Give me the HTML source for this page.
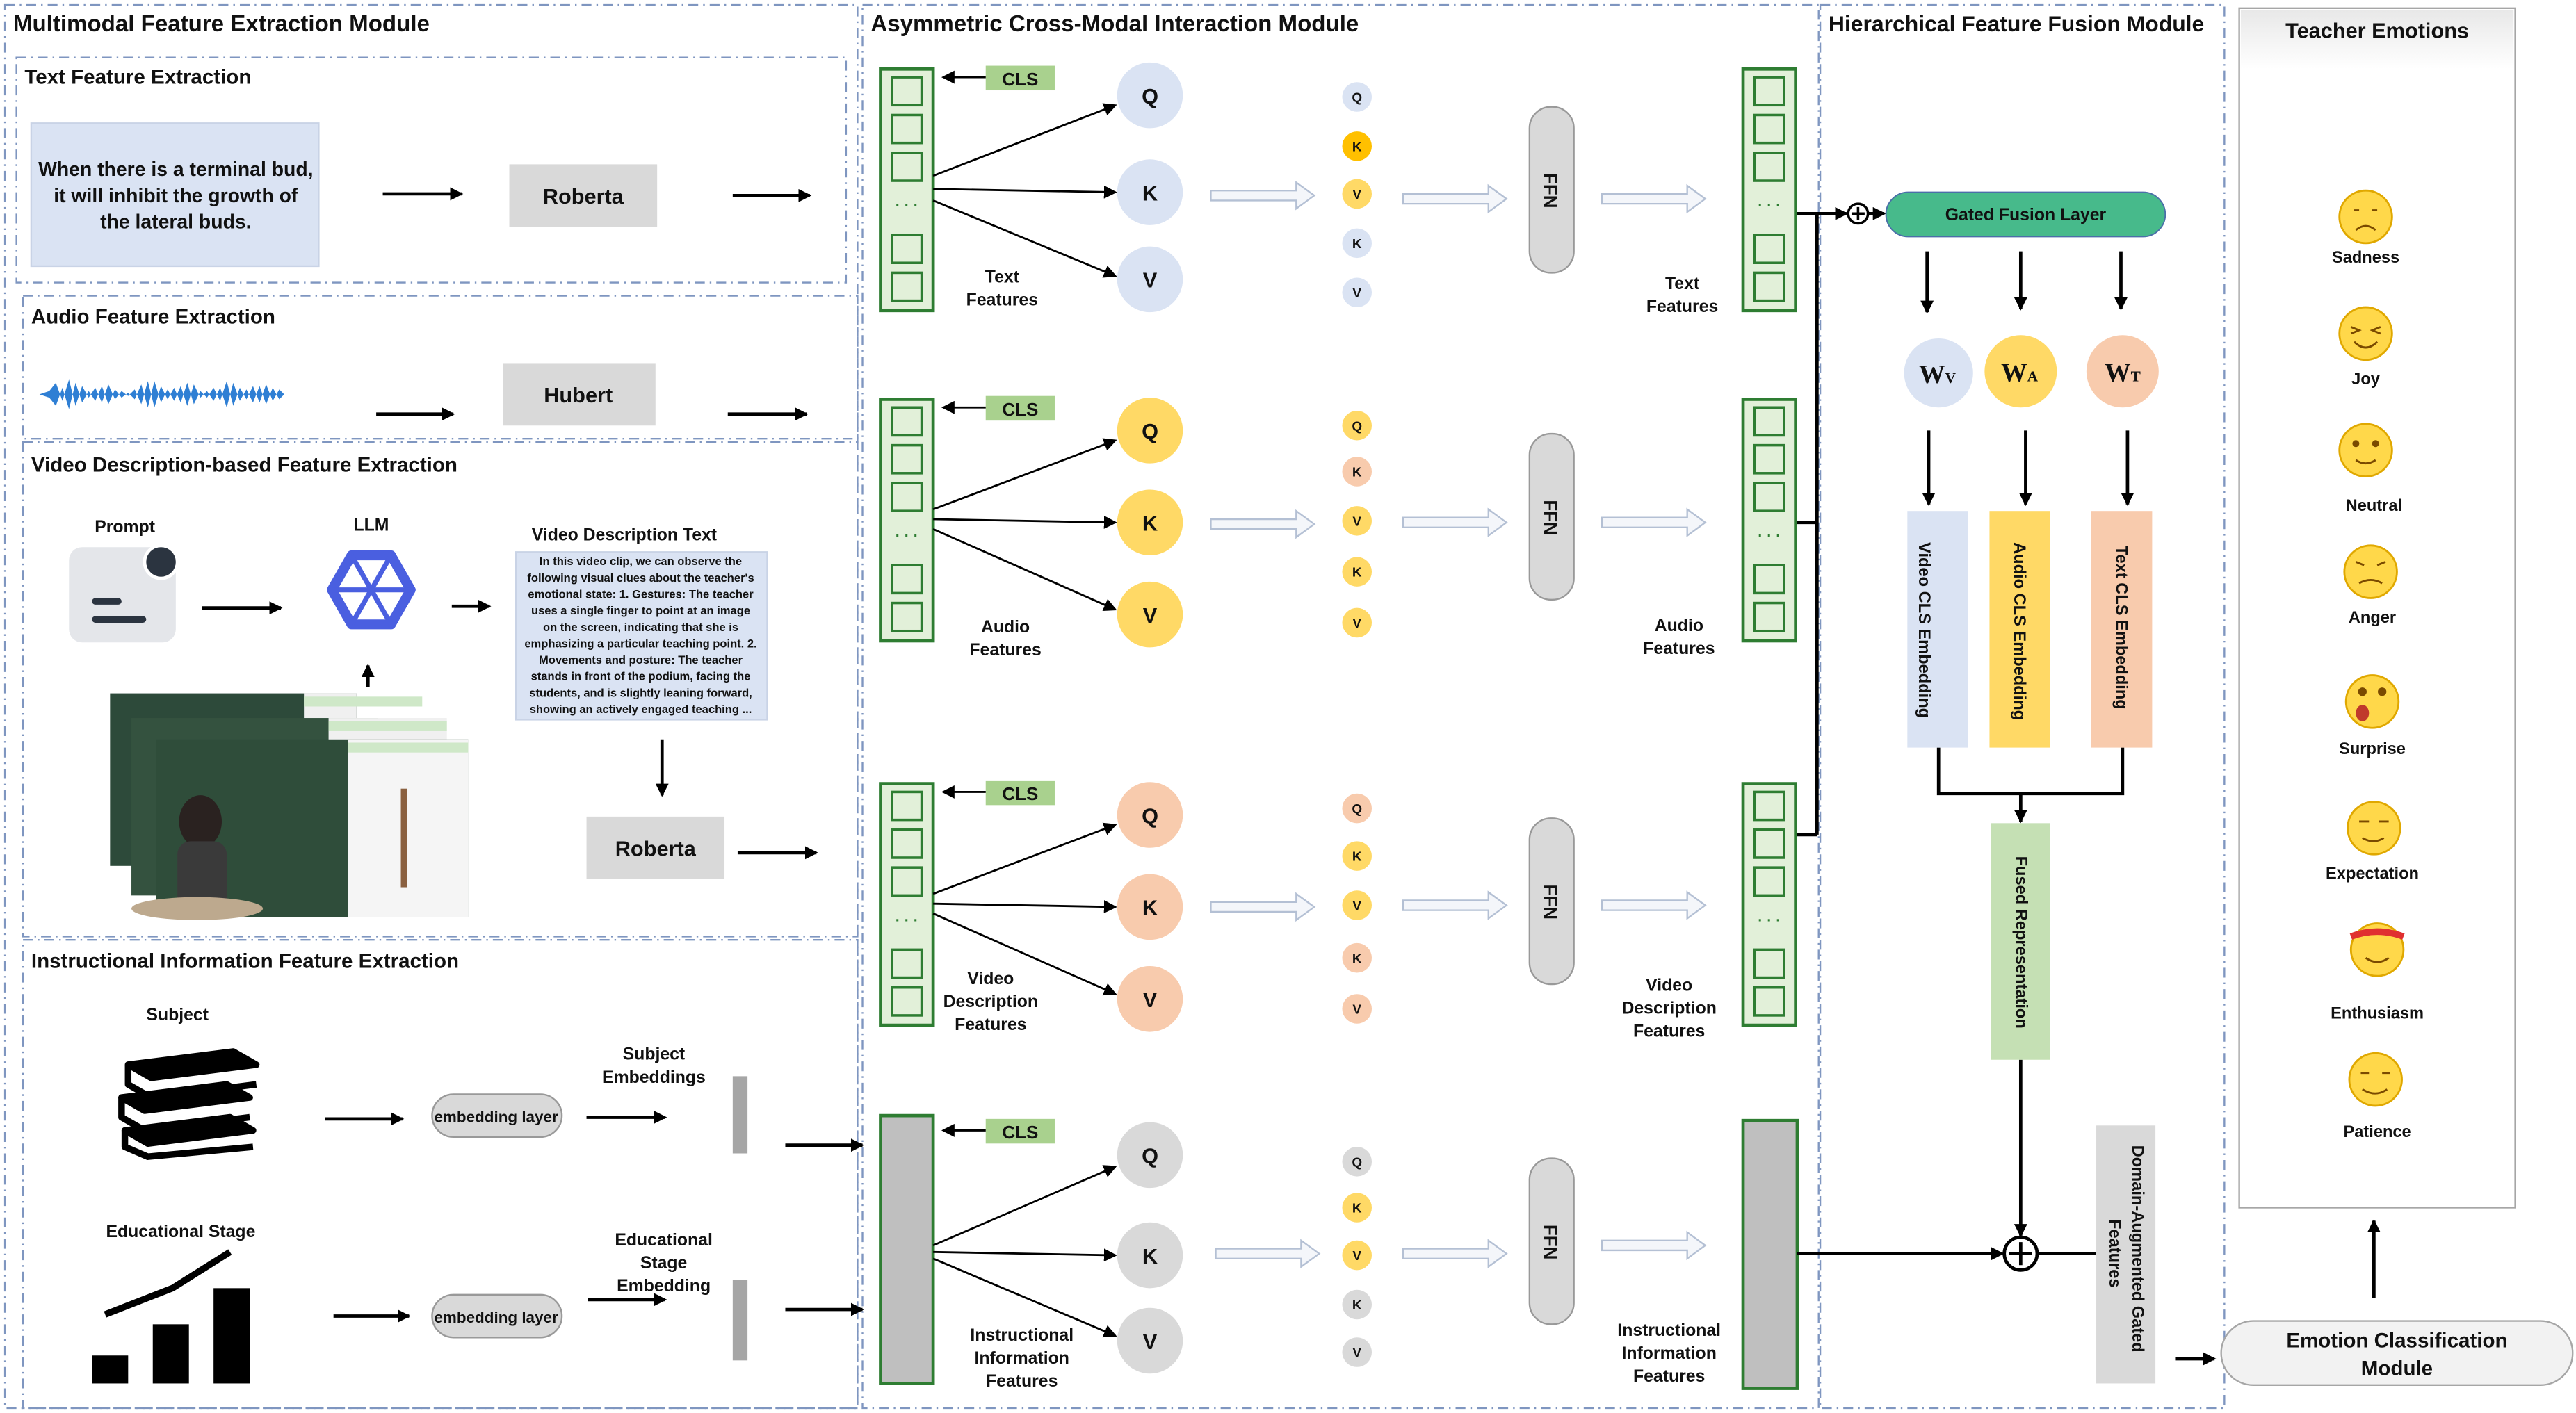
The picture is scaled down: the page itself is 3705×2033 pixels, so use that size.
<!DOCTYPE html>
<html><head><meta charset="utf-8"><style>
html,body{margin:0;padding:0;background:#fff}
svg{display:block}
text{font-family:"Liberation Sans","Noto Sans CJK SC",sans-serif;font-weight:bold;fill:#111}
</style></head><body>
<svg width="3705" height="2033" viewBox="0 0 1568 860" preserveAspectRatio="none" xmlns="http://www.w3.org/2000/svg">
<defs>
<marker id="ah" markerWidth="8" markerHeight="8" refX="7" refY="4" orient="auto" markerUnits="userSpaceOnUse"><path d="M0,0 L8,4 L0,8 z" fill="#000"/></marker>
<linearGradient id="hd" x1="0" y1="0" x2="0" y2="1"><stop offset="0" stop-color="#e8e8e8"/><stop offset="1" stop-color="#fff"/></linearGradient>
<g id="hol"><path d="M0,-3 L52,-3 L52,-8 L63,0 L52,8 L52,3 L0,3 z" fill="#f4f6fa" stroke="#b4c0d4" stroke-width="1"/></g>
<g id="col">
<rect x="0" y="0" width="32" height="147" fill="#e2f0d9" stroke="#2e7d32" stroke-width="2"/>
<rect x="7" y="5" width="18" height="17" fill="#e2f0d9" stroke="#2e7d32" stroke-width="1.5"/>
<rect x="7" y="28" width="18" height="17" fill="#e2f0d9" stroke="#2e7d32" stroke-width="1.5"/>
<rect x="7" y="51" width="18" height="17" fill="#e2f0d9" stroke="#2e7d32" stroke-width="1.5"/>
<text x="16" y="86" font-size="9" text-anchor="middle" fill="#2e7d32" style="fill:#2e7d32">· · ·</text>
<rect x="7" y="101" width="18" height="17" fill="#e2f0d9" stroke="#2e7d32" stroke-width="1.5"/>
<rect x="7" y="124" width="18" height="17" fill="#e2f0d9" stroke="#2e7d32" stroke-width="1.5"/>
</g>
</defs>

<!-- module borders -->
<g fill="none" stroke="#7f96c0" stroke-width="1" stroke-dasharray="6,3,1,3">
<rect x="3" y="3" width="519" height="854"/>
<rect x="525" y="3" width="582" height="854"/>
<rect x="1108" y="3" width="246" height="854"/>
<rect x="10" y="35" width="505" height="137"/>
<rect x="14" y="180" width="508" height="87"/>
<rect x="14" y="269" width="508" height="301"/>
<rect x="14" y="572" width="508" height="285"/>
</g>
<text x="8" y="19" font-size="14">Multimodal Feature Extraction Module</text>
<text x="530" y="19" font-size="14">Asymmetric Cross-Modal Interaction Module</text>
<text x="1113" y="19" font-size="13.5">Hierarchical Feature Fusion Module</text>

<!-- Text feature extraction -->
<text x="15" y="51" font-size="12.5">Text Feature Extraction</text>
<rect x="19" y="75" width="175" height="87" fill="#dae3f3" stroke="#c9d3e6"/>
<text font-size="12" text-anchor="middle"><tspan x="107" y="107">When there is a terminal bud,</tspan><tspan x="107" y="123">it will inhibit the growth of</tspan><tspan x="107" y="139">the lateral buds.</tspan></text>
<g stroke="#000" stroke-width="2" marker-end="url(#ah)" fill="none">
<line x1="233" y1="118" x2="281" y2="118"/><line x1="446" y1="119" x2="493" y2="119"/>
<line x1="229" y1="252" x2="276" y2="252"/><line x1="443" y1="252" x2="491" y2="252"/>
<line x1="123" y1="370" x2="171" y2="370"/><line x1="275" y1="369" x2="298" y2="369"/>
<line x1="224" y1="418" x2="224" y2="405"/><line x1="403" y1="450" x2="403" y2="484"/>
<line x1="449" y1="519" x2="497" y2="519"/>
<line x1="198" y1="681" x2="245" y2="681"/><line x1="357" y1="680" x2="405" y2="680"/>
<line x1="478" y1="697" x2="525" y2="697"/>
<line x1="203" y1="801" x2="249" y2="801"/><line x1="358" y1="791" x2="405" y2="791"/>
<line x1="478" y1="797" x2="525" y2="797"/>
</g>
<rect x="310" y="100" width="90" height="38" fill="#d9d9d9"/><text x="355" y="124" font-size="13" text-anchor="middle">Roberta</text>

<!-- Audio -->
<text x="19" y="197" font-size="12.5">Audio Feature Extraction</text>
<path d="M24,240 L30,238 L34,233 L38,244 L42,231 L46,247 L50,235 L54,242 L58,236 L62,245 L66,234 L70,243 L74,238 L78,241 L82,237 L86,246 L90,232 L94,248 L98,235 L102,243 L106,236 L110,245 L114,233 L118,246 L122,238 L126,242 L130,236 L134,244 L138,232 L142,247 L146,236 L150,243 L154,235 L158,245 L162,234 L166,244 L170,237 L173,240 L170,243 L166,236 L162,246 L158,235 L154,245 L150,237 L146,244 L142,233 L138,248 L134,236 L130,244 L126,238 L122,242 L118,234 L114,247 L110,235 L106,244 L102,237 L98,245 L94,232 L90,248 L86,234 L82,243 L78,239 L74,242 L70,237 L66,246 L62,235 L58,244 L54,238 L50,245 L46,233 L42,249 L38,236 L34,247 L30,242 Z" fill="#2f7fd4"/>
<rect x="306" y="221" width="93" height="38" fill="#d9d9d9"/><text x="352" y="245" font-size="13" text-anchor="middle">Hubert</text>

<!-- Video description -->
<text x="19" y="287" font-size="12.5">Video Description-based Feature Extraction</text>
<text x="76" y="324" font-size="10.5" text-anchor="middle">Prompt</text>
<rect x="42" y="333" width="65" height="58" rx="8" fill="#e4e6ea"/>
<circle cx="98" cy="342" r="10" fill="#2b3440" stroke="#fff" stroke-width="2"/>
<rect x="56" y="364" width="18" height="4" rx="2" fill="#2b3440"/><rect x="56" y="375" width="33" height="4" rx="2" fill="#2b3440"/>
<text x="226" y="323" font-size="10.5" text-anchor="middle">LLM</text>
<g fill="none" stroke="#4a5fe0" stroke-width="6" stroke-linejoin="round">
<path d="M214,338 L238,338 L250,359 L238,380 L214,380 L202,359 Z"/>
<path d="M214,338 L238,380 M238,338 L214,380 M202,359 L250,359" stroke-width="3"/>
</g>
<text x="380" y="329" font-size="10.5" text-anchor="middle">Video Description Text</text>
<rect x="314" y="336" width="153" height="102" fill="#dae3f3" stroke="#c9d3e6"/>
<text font-size="7" text-anchor="middle"><tspan x="390" y="344">In this video clip, we can observe the</tspan><tspan x="390" y="354">following visual clues about the teacher's</tspan><tspan x="390" y="364">emotional state: 1. Gestures: The teacher</tspan><tspan x="390" y="374">uses a single finger to point at an image</tspan><tspan x="390" y="384">on the screen, indicating that she is</tspan><tspan x="390" y="394">emphasizing a particular teaching point. 2.</tspan><tspan x="390" y="404">Movements and posture: The teacher</tspan><tspan x="390" y="414">stands in front of the podium, facing the</tspan><tspan x="390" y="424">students, and is slightly leaning forward,</tspan><tspan x="390" y="434">showing an actively engaged teaching ...</tspan></text>
<!-- video frames -->
<rect x="67" y="422" width="150" height="105" fill="#2d4a3a"/><rect x="185" y="422" width="32" height="105" fill="#f0f0f0"/>
<rect x="80" y="437" width="150" height="108" fill="#34523f"/><rect x="200" y="437" width="72" height="108" fill="#f0f0f0"/>
<rect x="95" y="450" width="190" height="108" fill="#2f4d3a"/><rect x="212" y="450" width="73" height="108" fill="#f5f5f5"/>
<rect x="185" y="424" width="72" height="6" fill="#cfe8c8"/><rect x="200" y="439" width="72" height="6" fill="#cfe8c8"/><rect x="212" y="452" width="73" height="6" fill="#cfe8c8"/>
<rect x="244" y="480" width="4" height="60" fill="#8a6040"/>
<ellipse cx="122" cy="500" rx="13" ry="16" fill="#2a2220"/><rect x="108" y="512" width="30" height="46" rx="8" fill="#3a3a3a"/>
<ellipse cx="120" cy="553" rx="40" ry="7" fill="#bda98e"/>
<rect x="357" y="497" width="84" height="38" fill="#d9d9d9"/><text x="399" y="521" font-size="13" text-anchor="middle">Roberta</text>

<!-- Instructional -->
<text x="19" y="589" font-size="12.5">Instructional Information Feature Extraction</text>
<text x="108" y="621" font-size="10.5" text-anchor="middle">Subject</text>
<g fill="none" stroke="#000" stroke-width="4" stroke-linejoin="round">
<path d="M78,648 L142,640 L156,648 L92,656 Z" fill="#000"/><path d="M78,648 L78,660 L92,668 L156,660"/>
<path d="M74,668 L138,660 L152,668 L88,676 Z" fill="#000"/><path d="M74,668 L74,680 L88,688 L152,680"/>
<path d="M76,688 L140,680 L154,688 L90,696 Z" fill="#000"/><path d="M76,688 L76,698 L90,704 L154,698"/>
</g>
<rect x="263" y="666" width="79" height="26" rx="13" fill="#d9d9d9" stroke="#999"/><text x="302" y="683" font-size="9.5" text-anchor="middle">embedding layer</text>
<text font-size="10.5" text-anchor="middle"><tspan x="398" y="645">Subject</tspan><tspan x="398" y="659">Embeddings</tspan></text>
<rect x="446" y="655" width="9" height="47" fill="#a6a6a6"/>
<text x="110" y="753" font-size="10.5" text-anchor="middle">Educational Stage</text>
<rect x="56" y="825" width="22" height="17" fill="#000"/><rect x="93" y="806" width="22" height="36" fill="#000"/><rect x="130" y="784" width="22" height="58" fill="#000"/>
<path d="M64,800 L105,784 L140,762" fill="none" stroke="#000" stroke-width="4"/>
<rect x="263" y="788" width="79" height="26" rx="13" fill="#d9d9d9" stroke="#999"/><text x="302" y="805" font-size="9.5" text-anchor="middle">embedding layer</text>
<text font-size="10.5" text-anchor="middle"><tspan x="404" y="758">Educational</tspan><tspan x="404" y="772">Stage</tspan><tspan x="404" y="786">Embedding</tspan></text>
<rect x="446" y="779" width="9" height="49" fill="#a6a6a6"/>

<!-- middle rows -->
<use href="#col" x="536" y="42"/><use href="#col" x="1061" y="42"/>
<use href="#col" x="536" y="243"/><use href="#col" x="1061" y="243"/>
<use href="#col" x="536" y="477"/><use href="#col" x="1061" y="477"/>
<rect x="536" y="679" width="32" height="163" fill="#bfbfbf" stroke="#2e7d32" stroke-width="2"/>
<rect x="1061" y="682" width="33" height="163" fill="#bfbfbf" stroke="#2e7d32" stroke-width="2"/>
<g>
<rect x="600" y="40" width="42" height="15" fill="#a9d18e"/><text x="621" y="52" font-size="11" text-anchor="middle">CLS</text>
<rect x="600" y="241" width="42" height="15" fill="#a9d18e"/><text x="621" y="253" font-size="11" text-anchor="middle">CLS</text>
<rect x="600" y="475" width="42" height="15" fill="#a9d18e"/><text x="621" y="487" font-size="11" text-anchor="middle">CLS</text>
<rect x="600" y="681" width="42" height="15" fill="#a9d18e"/><text x="621" y="693" font-size="11" text-anchor="middle">CLS</text>
</g>
<g stroke="#000" stroke-width="1.2" marker-end="url(#ah)" fill="none">
<line x1="600" y1="47" x2="574" y2="47"/><line x1="600" y1="248" x2="574" y2="248"/><line x1="600" y1="482" x2="574" y2="482"/><line x1="600" y1="688" x2="574" y2="688"/>
<line x1="568" y1="107" x2="679" y2="64"/><line x1="568" y1="115" x2="679" y2="117"/><line x1="568" y1="122" x2="679" y2="168"/>
<line x1="568" y1="310" x2="679" y2="268"/><line x1="568" y1="316" x2="679" y2="318"/><line x1="568" y1="322" x2="679" y2="371"/>
<line x1="568" y1="544" x2="679" y2="502"/><line x1="568" y1="550" x2="679" y2="552"/><line x1="568" y1="556" x2="679" y2="605"/>
<line x1="568" y1="758" x2="679" y2="710"/><line x1="568" y1="762" x2="679" y2="764"/><line x1="568" y1="766" x2="679" y2="813"/>
</g>
<g font-size="13" text-anchor="middle">
<circle cx="700" cy="58" r="20" fill="#dae3f3"/><text x="700" y="63">Q</text>
<circle cx="700" cy="117" r="20" fill="#dae3f3"/><text x="700" y="122">K</text>
<circle cx="700" cy="170" r="20" fill="#dae3f3"/><text x="700" y="175">V</text>
<circle cx="700" cy="262" r="20" fill="#ffd966"/><text x="700" y="267">Q</text>
<circle cx="700" cy="318" r="20" fill="#ffd966"/><text x="700" y="323">K</text>
<circle cx="700" cy="374" r="20" fill="#ffd966"/><text x="700" y="379">V</text>
<circle cx="700" cy="496" r="20" fill="#f8cbad"/><text x="700" y="501">Q</text>
<circle cx="700" cy="552" r="20" fill="#f8cbad"/><text x="700" y="557">K</text>
<circle cx="700" cy="608" r="20" fill="#f8cbad"/><text x="700" y="613">V</text>
<circle cx="700" cy="703" r="20" fill="#d9d9d9"/><text x="700" y="708">Q</text>
<circle cx="700" cy="764" r="20" fill="#d9d9d9"/><text x="700" y="769">K</text>
<circle cx="700" cy="816" r="20" fill="#d9d9d9"/><text x="700" y="821">V</text>
</g>
<g font-size="8" text-anchor="middle">
<circle cx="826" cy="59" r="9" fill="#dae3f3"/><text x="826" y="62">Q</text>
<circle cx="826" cy="89" r="9" fill="#ffc000"/><text x="826" y="92">K</text>
<circle cx="826" cy="118" r="9" fill="#ffd966"/><text x="826" y="121">V</text>
<circle cx="826" cy="148" r="9" fill="#dae3f3"/><text x="826" y="151">K</text>
<circle cx="826" cy="178" r="9" fill="#dae3f3"/><text x="826" y="181">V</text>
<circle cx="826" cy="259" r="9" fill="#ffd966"/><text x="826" y="262">Q</text>
<circle cx="826" cy="287" r="9" fill="#f8cbad"/><text x="826" y="290">K</text>
<circle cx="826" cy="317" r="9" fill="#ffd966"/><text x="826" y="320">V</text>
<circle cx="826" cy="348" r="9" fill="#ffd966"/><text x="826" y="351">K</text>
<circle cx="826" cy="379" r="9" fill="#ffd966"/><text x="826" y="382">V</text>
<circle cx="826" cy="492" r="9" fill="#f8cbad"/><text x="826" y="495">Q</text>
<circle cx="826" cy="521" r="9" fill="#ffd966"/><text x="826" y="524">K</text>
<circle cx="826" cy="551" r="9" fill="#ffd966"/><text x="826" y="554">V</text>
<circle cx="826" cy="583" r="9" fill="#f8cbad"/><text x="826" y="586">K</text>
<circle cx="826" cy="614" r="9" fill="#f8cbad"/><text x="826" y="617">V</text>
<circle cx="826" cy="707" r="9" fill="#d9d9d9"/><text x="826" y="710">Q</text>
<circle cx="826" cy="735" r="9" fill="#ffd966"/><text x="826" y="738">K</text>
<circle cx="826" cy="764" r="9" fill="#ffd966"/><text x="826" y="767">V</text>
<circle cx="826" cy="794" r="9" fill="#d9d9d9"/><text x="826" y="797">K</text>
<circle cx="826" cy="823" r="9" fill="#d9d9d9"/><text x="826" y="826">V</text>
</g>
<use href="#hol" x="737" y="119"/><use href="#hol" x="854" y="121"/><use href="#hol" x="975" y="121"/>
<use href="#hol" x="737" y="319"/><use href="#hol" x="854" y="318"/><use href="#hol" x="975" y="318"/>
<use href="#hol" x="737" y="552"/><use href="#hol" x="854" y="551"/><use href="#hol" x="975" y="551"/>
<use href="#hol" x="740" y="763"/><use href="#hol" x="854" y="763"/><use href="#hol" x="975" y="758"/>
<g fill="#d9d9d9" stroke="#999">
<rect x="931" y="65" width="27" height="101" rx="13"/><rect x="931" y="264" width="27" height="101" rx="13"/>
<rect x="931" y="498" width="27" height="101" rx="13"/><rect x="931" y="705" width="27" height="101" rx="13"/>
</g>
<g font-size="11" text-anchor="middle">
<text transform="translate(940,116) rotate(90)">FFN</text><text transform="translate(940,315) rotate(90)">FFN</text>
<text transform="translate(940,549) rotate(90)">FFN</text><text transform="translate(940,756) rotate(90)">FFN</text>
</g>
<g font-size="10.5" text-anchor="middle">
<text><tspan x="610" y="172">Text</tspan><tspan x="610" y="186">Features</tspan></text>
<text><tspan x="1024" y="176">Text</tspan><tspan x="1024" y="190">Features</tspan></text>
<text><tspan x="612" y="385">Audio</tspan><tspan x="612" y="399">Features</tspan></text>
<text><tspan x="1022" y="384">Audio</tspan><tspan x="1022" y="398">Features</tspan></text>
<text><tspan x="603" y="599">Video</tspan><tspan x="603" y="613">Description</tspan><tspan x="603" y="627">Features</tspan></text>
<text><tspan x="1016" y="603">Video</tspan><tspan x="1016" y="617">Description</tspan><tspan x="1016" y="631">Features</tspan></text>
<text><tspan x="622" y="816">Instructional</tspan><tspan x="622" y="830">Information</tspan><tspan x="622" y="844">Features</tspan></text>
<text><tspan x="1016" y="813">Instructional</tspan><tspan x="1016" y="827">Information</tspan><tspan x="1016" y="841">Features</tspan></text>
</g>

<!-- fusion -->
<g stroke="#000" stroke-width="2" fill="none">
<line x1="1094" y1="130" x2="1106" y2="130"/><line x1="1094" y1="318" x2="1106" y2="318"/><line x1="1094" y1="508" x2="1106" y2="508"/>
<line x1="1106" y1="130" x2="1106" y2="508"/>
<line x1="1106" y1="130" x2="1124" y2="130" marker-end="url(#ah)"/>
<line x1="1137" y1="130" x2="1147" y2="130" marker-end="url(#ah)"/>
<line x1="1173" y1="153" x2="1173" y2="190" marker-end="url(#ah)"/><line x1="1230" y1="153" x2="1230" y2="188" marker-end="url(#ah)"/><line x1="1291" y1="153" x2="1291" y2="188" marker-end="url(#ah)"/>
<line x1="1174" y1="262" x2="1174" y2="307" marker-end="url(#ah)"/><line x1="1233" y1="262" x2="1233" y2="307" marker-end="url(#ah)"/><line x1="1295" y1="262" x2="1295" y2="307" marker-end="url(#ah)"/>
<polyline points="1180,455 1180,483 1292,483 1292,455"/>
<line x1="1230" y1="483" x2="1230" y2="500" marker-end="url(#ah)"/>
<line x1="1230" y1="645" x2="1230" y2="752" marker-end="url(#ah)"/>
<line x1="1094" y1="763" x2="1219" y2="763" marker-end="url(#ah)"/>
<line x1="1240" y1="763" x2="1276" y2="763"/>
<line x1="1324" y1="827" x2="1348" y2="827" marker-end="url(#ah)"/>
<line x1="1445" y1="790" x2="1445" y2="743" marker-end="url(#ah)"/>
</g>
<circle cx="1131" cy="130" r="6" fill="#fff" stroke="#000" stroke-width="1.5"/><path d="M1127,130 h8 M1131,126 v8" stroke="#000" stroke-width="1.5"/>
<circle cx="1230" cy="763" r="10" fill="#fff" stroke="#000" stroke-width="2"/><path d="M1223,763 h14 M1230,756 v14" stroke="#000" stroke-width="2"/>
<rect x="1148" y="117" width="170" height="27" rx="13.5" fill="#47ba8b" stroke="#4a6fa8" stroke-width="0.8"/>
<text x="1233" y="134" font-size="10.5" text-anchor="middle">Gated Fusion Layer</text>
<circle cx="1180" cy="227" r="21" fill="#dae3f3"/><circle cx="1230" cy="226" r="22" fill="#ffd966"/><circle cx="1292" cy="226" r="22" fill="#f8cbad"/>
<g style="font-family:'Liberation Serif',serif"><text x="1168" y="233" font-size="16" style="font-family:'Liberation Serif',serif">W<tspan font-size="9">V</tspan></text>
<text x="1218" y="232" font-size="16" style="font-family:'Liberation Serif',serif">W<tspan font-size="9">A</tspan></text>
<text x="1281" y="232" font-size="16" style="font-family:'Liberation Serif',serif">W<tspan font-size="9">T</tspan></text></g>
<rect x="1161" y="311" width="37" height="144" fill="#dae3f3"/><rect x="1211" y="311" width="37" height="144" fill="#ffd966"/><rect x="1273" y="311" width="37" height="144" fill="#f8cbad"/>
<rect x="1212" y="501" width="36" height="144" fill="#c5e0b4"/><rect x="1276" y="685" width="36" height="157" fill="#d9d9d9"/>
<g font-size="10">
<text transform="translate(1168,330) rotate(90)">Video CLS Embedding</text>
<text transform="translate(1226,330) rotate(90)">Audio CLS Embedding</text>
<text transform="translate(1288,332) rotate(90)">Text CLS Embedding</text>
<text transform="translate(1227,521) rotate(90)">Fused Representation</text>
<text transform="translate(1298,697) rotate(90)">Domain-Augmented Gated</text>
<text transform="translate(1284,742) rotate(90)">Features</text>
</g>

<!-- emotions -->
<rect x="1363" y="5" width="168" height="730" fill="#fff" stroke="#a6a6a6"/>
<rect x="1364" y="6" width="166" height="36" fill="url(#hd)"/>
<text x="1447" y="23" font-size="13" text-anchor="middle">Teacher Emotions</text>
<g stroke="#7a4a00" stroke-width="1.2" fill="none">
<circle cx="1440" cy="132" r="16" fill="#ffd84a" stroke="#e0a800"/><path d="M1433,128 h3 M1444,128 h3 M1434,140 q6,-5 12,0"/>
<circle cx="1440" cy="203" r="16" fill="#ffd84a" stroke="#e0a800"/><path d="M1431,199 l5,2 l-5,2 M1449,199 l-5,2 l5,2 M1433,208 q7,7 14,0"/>
<circle cx="1440" cy="274" r="16" fill="#ffd84a" stroke="#e0a800"/><circle cx="1434" cy="270" r="1.5" fill="#7a4a00"/><circle cx="1446" cy="270" r="1.5" fill="#7a4a00"/><path d="M1434,280 q6,4 12,0"/>
<circle cx="1443" cy="348" r="16" fill="#ffd84a" stroke="#e0a800"/><path d="M1434,342 l5,2 M1452,342 l-5,2 M1436,355 q7,-4 14,0"/>
<circle cx="1444" cy="427" r="16" fill="#ffd84a" stroke="#e0a800"/><circle cx="1438" cy="421" r="2" fill="#7a4a00"/><circle cx="1450" cy="421" r="2" fill="#7a4a00"/><ellipse cx="1438" cy="434" rx="4" ry="5" fill="#c0392b" stroke="none"/>
<circle cx="1445" cy="504" r="16" fill="#ffd84a" stroke="#e0a800"/><path d="M1436,500 h6 M1448,500 h6 M1438,510 q7,4 13,0"/>
<circle cx="1447" cy="578" r="16" fill="#ffd84a" stroke="#e0a800"/><path d="M1431,570 q16,-6 32,0" stroke="#e03030" stroke-width="4"/><path d="M1440,583 q7,5 14,0"/>
<circle cx="1446" cy="657" r="16" fill="#ffd84a" stroke="#e0a800"/><path d="M1437,653 h5 M1450,653 h5 M1438,663 q8,5 15,0"/>
</g>
<g font-size="10" text-anchor="middle">
<text x="1440" y="160">Sadness</text><text x="1440" y="234">Joy</text><text x="1445" y="311">Neutral</text><text x="1444" y="379">Anger</text>
<text x="1444" y="459">Surprise</text><text x="1444" y="535">Expectation</text><text x="1447" y="620">Enthusiasm</text><text x="1447" y="692">Patience</text>
</g>
<rect x="1352" y="804" width="214" height="39" rx="19.5" fill="#f2f2f2" stroke="#a6a6a6"/>
<text font-size="12.5" text-anchor="middle"><tspan x="1459" y="820">Emotion Classification</tspan><tspan x="1459" y="837">Module</tspan></text>
</svg>
</body></html>
